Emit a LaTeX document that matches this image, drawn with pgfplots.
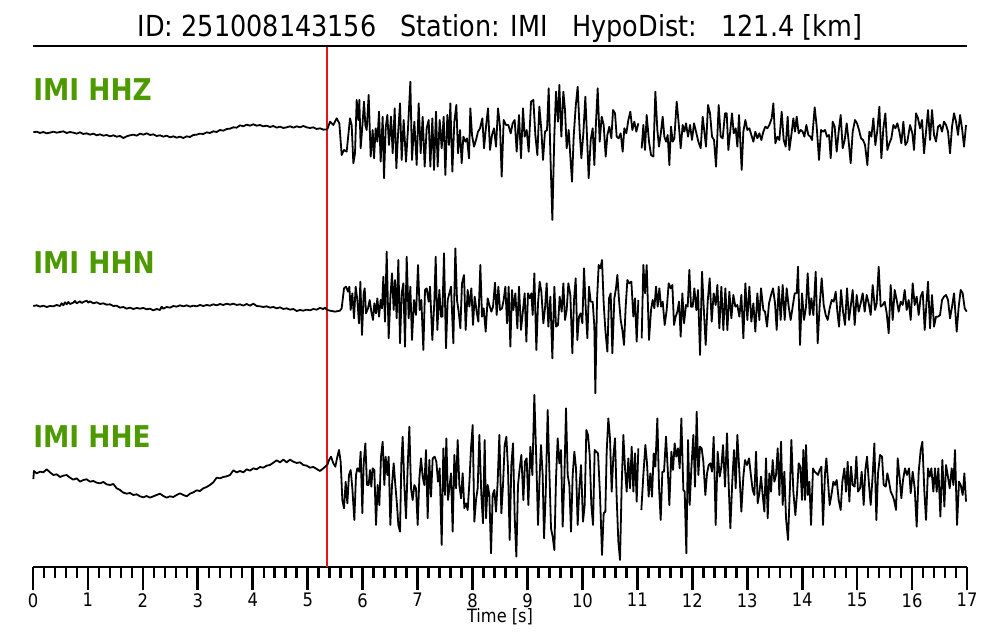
\documentclass[border=0pt]{standalone}
\usepackage{fontspec}
\setmainfont{DejaVu Sans}[FakeStretch=0.88]
\usepackage{pgfplots}
\pgfplotsset{compat=1.18}
\definecolor{stagreen}{RGB}{76,153,0}
\definecolor{pickred}{RGB}{235,20,20}

% traces were read off the image in pieces, at 3x; each piece is mapped back
% to seconds (x) and to image rows (y, negated) with its own offset
\pgfplotsset{
  seg/.style 2 args={x filter/.expression={(#1+x/3-33)/54.94},
                     y filter/.expression={-(#2+y/3)}},
  trace/.style={black, line width=0.9pt, line join=round},
}

\begin{document}
\begin{tikzpicture}
\useasboundingbox (-16.5pt,-36.5pt) rectangle (483.5pt,283.5pt);
\begin{axis}[
  at={(0,0)}, anchor=south west,
  scale only axis, width=467pt, height=260.5pt,
  xmin=0, xmax=17, ymin=-567, ymax=-46,
  axis x line*=bottom, axis y line=none,
  xtick={0,...,17}, minor x tick num=4, ytick=\empty,
  tick align=outside,
  major tick length=11.5pt, minor tick length=5.5pt,
  major tick style={black, line width=1.35pt},
  minor tick style={black, line width=1.25pt},
  x axis line style={line width=1.1pt},
  xticklabel style={font=\fontsize{9.3}{10}\selectfont, inner sep=0pt, yshift=-1.5pt},
  /pgf/number format/assume math mode=true,
  clip=false,
]
% P-pick line, drawn as a plot of its own
\addplot[pickred, line width=0.8pt] coordinates {(5.355,-46) (5.355,-567)};
% ---- HHZ
\addplot[trace, seg={20}{70}] coordinates {
(40,187)(50,185)(60,189)(70,186)(80,190)(90,188)(100,185)(110,188)(120,186)(130,184)(140,189)(150,186)(160,188)(170,191)(180,187)(190,192)(200,190)(210,194)(220,191)(230,196)(240,193)(250,197)(260,195)(270,199)(280,196)(290,200)(300,198)(310,204)(320,199)(330,196)(340,194)(350,197)(360,191)(370,194)(380,190)(390,195)(400,193)(410,198)(420,196)(430,200)(440,197)(450,202)(460,199)(470,203)(480,200)(490,204)(500,199)(510,201)(520,195)(530,194)(540,191)(550,192)(560,187)(570,189)(580,184)(590,186)(600,180)(610,182)(620,177)(630,176)(640,172)(650,173)(660,166)(670,169)(680,164)(690,167)(700,163)(710,167)(720,165)(730,169)(740,167)(750,171)(760,168)(770,173)(780,170)(790,174)(800,172)(810,169)(820,173)(830,169)(840,172)(850,168)(860,172)(870,174)(880,172)(890,177)(900,175)(910,179)(921,178)
};
\addplot[trace, seg={320}{70}] coordinates {
(22,178)(30,155)(40,165)(50,145)(58,160)(65,255)(72,240)(80,245)(85,195)(90,145)(95,165)(100,280)(105,250)(110,90)(115,150)(118,90)(122,235)(128,155)(132,95)(136,165)(140,180)(146,75)(152,260)(158,180)(162,265)(167,175)(172,215)(177,125)(182,275)(188,140)(192,325)(197,175)(202,135)(207,225)(213,140)(218,250)(224,115)(229,295)(234,195)(240,100)(245,270)(251,150)(258,275)(264,175)(271,35)(276,270)(283,155)(290,285)(296,100)(302,250)(308,140)(314,290)(320,175)(326,150)(331,290)(337,145)(342,300)(348,125)(353,290)(359,150)(365,235)(371,140)(376,315)(382,135)(387,225)(391,100)(397,305)(403,155)(409,105)(414,250)(420,180)(425,280)(430,200)(436,215)(441,205)(447,265)(451,115)(456,195)(462,230)(468,210)(474,185)(480,175)(487,145)(492,235)(498,170)(504,115)(510,240)(516,195)(522,175)(528,230)(534,115)(540,170)(545,320)(551,150)(558,165)(565,165)(572,190)(578,160)(584,150)(590,245)(597,135)(603,265)(609,115)(614,200)(620,180)(626,245)(633,95)(640,90)(646,195)(652,255)(658,110)(664,180)(669,270)(675,185)(681,180)(686,55)(691,250)(697,450)(703,195)(708,65)(714,155)(718,45)(724,200)(730,65)(735,120)(740,235)(746,180)(751,260)(756,335)(761,200)(767,110)(773,50)(779,185)(784,265)(790,190)(796,80)(801,200)(806,325)(812,210)(818,175)(823,285)(828,155)(833,55)(839,215)(845,140)(851,165)(857,260)(862,195)(868,170)(874,205)(879,120)(885,130)(890,200)(896,205)(902,190)(908,245)(913,175)(919,190)(925,150)(931,125)(937,180)(943,155)(949,185)(955,160)
};
\addplot[trace, seg={640}{70}] coordinates {
(5,235)(10,165)(15,240)(20,135)(27,215)(33,255)(40,260)(46,65)(52,180)(57,230)(63,185)(68,140)(73,200)(78,215)(83,195)(88,285)(93,170)(98,215)(103,205)(110,95)(116,160)(122,235)(128,165)(133,185)(138,160)(144,200)(150,165)(156,210)(162,160)(168,185)(175,215)(182,235)(188,140)(193,185)(198,230)(204,105)(210,130)(216,200)(222,210)(228,290)(236,105)(242,200)(248,205)(255,130)(260,130)(265,240)(270,190)(276,130)(281,190)(287,175)(292,230)(297,135)(305,300)(310,185)(316,150)(322,180)(328,175)(334,195)(340,215)(346,185)(352,205)(358,190)(364,210)(370,185)(376,170)(382,175)(388,165)(395,145)(400,100)(406,220)(412,200)(418,210)(425,125)(431,210)(437,230)(443,140)(448,240)(454,195)(460,145)(465,185)(470,140)(476,190)(482,180)(488,185)(493,200)(499,165)(505,195)(511,200)(516,210)(524,112)(530,170)(537,270)(543,180)(549,185)(555,180)(561,200)(567,195)(572,265)(578,155)(584,170)(590,245)(597,175)(602,135)(608,235)(614,210)(620,160)(626,215)(632,280)(638,185)(645,150)(651,160)(657,180)(663,205)(669,210)(675,225)(682,285)(688,185)(694,200)(700,145)(706,225)(712,180)(718,110)(724,265)(730,175)(736,130)(742,240)(748,220)(754,205)(760,165)(766,175)(772,160)(778,185)(784,220)(790,155)(796,225)(802,215)(810,165)(817,190)(822,240)(828,130)(834,145)(840,175)(846,150)(852,250)(858,185)(864,120)(870,210)(876,120)(882,195)(888,215)(894,170)(900,165)(906,185)(912,155)(918,165)(924,185)(930,250)(936,170)(942,130)(948,155)(954,195)(960,135)(966,175)(972,230)(978,165)
};
% ---- HHN
\addplot[trace, seg={20}{240}] coordinates {
(40,198)(50,196)(60,200)(70,197)(80,201)(90,198)(100,199)(110,195)(120,198)(125,190)(130,196)(135,187)(140,193)(145,186)(150,192)(160,188)(165,183)(170,190)(180,184)(185,189)(190,186)(200,182)(205,188)(210,184)(220,190)(230,187)(240,192)(250,190)(260,194)(270,193)(280,198)(290,197)(300,203)(310,201)(320,206)(330,203)(340,207)(350,204)(360,206)(370,204)(380,208)(390,206)(400,211)(410,207)(420,210)(425,200)(430,206)(440,201)(450,203)(460,198)(470,200)(480,196)(490,199)(500,196)(510,200)(520,197)(530,199)(540,195)(550,198)(560,195)(570,197)(580,193)(590,196)(600,192)(610,195)(620,191)(630,194)(640,191)(650,195)(660,193)(670,197)(680,192)(690,197)(700,191)(710,198)(720,199)(730,201)(740,199)(750,203)(760,201)(770,205)(780,202)(790,207)(800,205)(810,209)(820,207)(830,213)(840,210)(850,212)(860,209)(870,211)(880,207)(890,209)(900,204)(910,207)(915,203)(921,210)
};
\addplot[trace, seg={320}{240}] coordinates {
(22,210)(30,212)(45,215)(60,212)(65,205)(72,145)(78,140)(84,155)(88,140)(92,210)(97,160)(102,235)(107,140)(112,180)(117,250)(121,125)(126,285)(131,160)(134,145)(138,220)(144,205)(149,180)(154,215)(159,240)(163,190)(168,220)(172,175)(177,230)(182,180)(186,205)(190,110)(195,245)(200,35)(206,295)(211,175)(216,100)(221,210)(225,120)(230,235)(235,60)(240,310)(245,160)(250,130)(255,320)(260,50)(266,235)(271,140)(276,300)(282,180)(288,225)(294,75)(299,210)(304,180)(310,330)(315,150)(320,145)(326,185)(330,140)(337,300)(343,185)(347,50)(352,270)(358,150)(363,230)(367,230)(372,40)(378,325)(383,180)(388,160)(393,140)(400,310)(406,25)(411,180)(416,215)(421,265)(426,130)(432,105)(437,270)(443,150)(448,200)(454,145)(459,255)(464,170)(470,215)(475,245)(481,75)(486,230)(491,205)(497,275)(503,175)(508,195)(514,215)(519,200)(525,128)(530,225)(535,140)(540,210)(546,205)(551,180)(556,140)(561,250)(566,140)(571,320)(576,150)(580,210)(586,160)(592,265)(597,140)(603,270)(609,210)(614,160)(619,305)(624,160)(629,175)(634,160)(638,225)(643,100)(649,330)(654,190)(659,125)(664,155)(670,250)(675,205)(680,130)(685,260)(691,170)(697,355)(703,140)(708,260)(714,255)(719,170)(725,215)(730,130)(735,240)(740,210)(745,130)(751,165)(757,340)(762,180)(767,115)(772,300)(777,230)(782,220)(787,250)(792,85)(797,200)(802,295)(807,140)(812,185)(818,185)(823,260)(826,460)(831,180)(836,75)(841,85)(846,60)(851,190)(856,270)(862,335)(867,175)(872,160)(877,340)(883,175)(888,145)(892,105)(897,180)(902,240)(907,270)(912,315)(917,200)(922,120)(928,130)(934,125)(940,230)(945,175)(950,305)(955,180)
};
\addplot[trace, seg={640}{240}] coordinates {
(5,295)(10,75)(15,160)(20,75)(27,300)(33,210)(38,180)(43,205)(48,140)(53,200)(58,145)(63,200)(68,185)(74,255)(80,210)(86,130)(92,145)(97,135)(102,255)(107,230)(112,215)(117,185)(122,290)(127,160)(132,250)(138,195)(143,200)(148,90)(153,200)(158,200)(163,145)(169,210)(174,150)(180,345)(186,95)(191,200)(197,315)(203,185)(209,115)(215,245)(221,160)(227,195)(232,135)(238,265)(244,140)(250,270)(256,145)(262,270)(268,155)(274,235)(280,165)(286,200)(292,195)(298,230)(304,165)(310,295)(316,130)(322,240)(328,140)(334,245)(340,190)(346,275)(352,160)(358,240)(363,145)(370,210)(375,215)(381,260)(387,190)(393,165)(399,145)(405,190)(410,270)(416,140)(422,240)(428,135)(434,240)(440,145)(446,200)(452,240)(458,200)(464,160)(470,160)(474,80)(480,315)(486,160)(492,240)(498,200)(503,100)(509,225)(514,175)(520,225)(527,95)(533,310)(539,195)(545,115)(551,195)(557,225)(563,240)(569,205)(575,180)(581,185)(587,155)(592,215)(597,260)(603,150)(609,215)(615,255)(621,145)(627,240)(632,200)(638,150)(644,255)(650,165)(656,215)(662,190)(668,160)(674,215)(680,165)(686,190)(692,225)(698,135)(705,210)(710,190)(716,80)(722,200)(728,195)(734,185)(740,220)(746,280)(752,135)(758,240)(764,150)(770,180)(776,215)(782,185)(788,195)(794,150)(800,210)(806,180)(812,240)(818,130)(824,195)(830,170)(836,225)(842,170)(848,155)(854,270)(860,180)(864,125)(870,265)(876,165)(882,260)(888,230)(894,230)(900,225)(906,180)(912,170)(918,165)(924,180)(930,235)(936,200)(942,160)(950,275)(956,200)(962,150)(968,160)(974,205)(980,215)
};
% ---- HHE
\addplot[trace, seg={20}{415}] coordinates {
(40,192)(42,168)(50,175)(60,170)(70,172)(80,163)(90,172)(100,180)(110,178)(120,186)(130,182)(140,180)(150,188)(160,194)(170,190)(180,200)(190,195)(200,193)(210,200)(220,198)(230,203)(240,205)(250,201)(260,208)(270,210)(280,207)(290,220)(300,225)(310,233)(320,236)(330,234)(340,240)(350,238)(360,244)(370,247)(380,243)(390,248)(400,244)(410,240)(420,236)(430,243)(440,248)(450,244)(460,246)(470,240)(480,235)(490,240)(500,244)(510,236)(520,232)(530,226)(540,228)(550,220)(560,216)(570,210)(580,202)(590,188)(600,190)(610,186)(620,184)(630,180)(640,166)(650,172)(660,168)(670,172)(680,163)(690,167)(700,160)(710,163)(720,156)(730,158)(740,152)(750,150)(760,143)(770,136)(780,142)(790,134)(800,142)(810,134)(820,140)(830,144)(840,142)(850,150)(860,152)(870,158)(880,156)(890,162)(900,168)(910,160)(921,150)
};
\addplot[trace, seg={320}{385}] coordinates {
(22,240)(27,225)(33,215)(40,235)(46,245)(52,215)(57,195)(62,230)(67,345)(72,370)(77,290)(82,355)(87,270)(92,255)(97,310)(103,405)(108,270)(112,250)(118,260)(122,200)(127,385)(131,235)(136,175)(141,300)(146,300)(150,255)(154,305)(158,250)(163,255)(168,420)(173,300)(178,360)(183,215)(188,170)(193,300)(197,215)(202,270)(206,215)(211,420)(216,300)(221,235)(226,300)(231,360)(235,420)(240,440)(244,235)(248,155)(253,300)(258,400)(263,245)(268,125)(273,310)(278,345)(283,300)(288,310)(293,420)(298,280)(303,220)(308,275)(313,300)(318,195)(323,400)(328,225)(333,335)(338,220)(344,215)(349,230)(354,290)(359,250)(365,480)(370,190)(375,330)(379,160)(384,345)(389,300)(393,265)(398,440)(403,210)(408,310)(413,165)(418,300)(423,340)(428,265)(433,370)(438,355)(443,375)(448,295)(453,190)(458,120)(463,410)(468,345)(473,310)(478,150)(484,330)(489,415)(494,165)(498,400)(503,300)(508,330)(513,505)(518,330)(523,315)(528,380)(533,290)(538,150)(544,385)(549,300)(554,180)(559,155)(564,250)(569,465)(574,240)(579,175)(584,395)(589,515)(594,300)(599,250)(604,210)(610,345)(615,230)(620,220)(625,360)(631,185)(637,270)(643,30)(649,230)(654,420)(659,270)(663,180)(668,270)(672,460)(677,330)(683,75)(688,255)(693,430)(698,455)(703,495)(708,280)(713,160)(718,235)(723,195)(728,425)(733,280)(738,70)(743,270)(748,300)(753,440)(758,270)(763,200)(768,250)(773,420)(778,310)(783,240)(789,410)(794,360)(799,135)(804,150)(809,210)(814,360)(819,420)(824,195)(829,200)(834,205)(840,330)(846,510)(851,385)(856,380)(860,200)(865,100)(870,160)(875,320)(880,215)(885,160)(890,340)(895,470)(900,525)(905,300)(910,150)(915,250)(920,320)(925,220)(930,310)(935,185)(940,320)(945,205)(950,350)(955,190)
};
\addplot[trace, seg={640}{385}] coordinates {
(4,375)(10,270)(16,180)(21,235)(26,335)(31,265)(36,335)(41,205)(46,245)(52,100)(57,305)(62,405)(67,260)(72,260)(78,155)(83,250)(88,360)(94,200)(99,255)(104,175)(109,215)(114,190)(119,250)(124,100)(130,315)(134,320)(139,505)(144,165)(149,360)(154,250)(160,150)(165,305)(170,80)(175,270)(180,185)(185,190)(190,230)(196,330)(201,265)(206,240)(211,235)(216,260)(221,155)(227,420)(233,200)(239,275)(244,245)(249,180)(255,305)(261,145)(266,300)(271,430)(277,285)(282,195)(287,310)(292,150)(298,260)(304,380)(310,275)(315,225)(321,240)(327,220)(332,265)(338,315)(343,330)(348,200)(353,355)(358,325)(363,275)(368,330)(373,380)(378,220)(383,400)(388,265)(393,320)(398,225)(403,290)(408,270)(413,190)(418,330)(423,170)(428,360)(433,260)(438,400)(444,465)(450,300)(454,165)(460,320)(466,390)(471,325)(476,235)(481,245)(486,345)(490,195)(495,345)(498,180)(503,330)(508,290)(513,420)(519,250)(524,260)(529,265)(534,270)(539,255)(544,245)(549,420)(555,265)(559,220)(564,290)(569,360)(575,325)(580,290)(585,300)(590,285)(596,345)(602,375)(607,290)(613,250)(618,320)(623,230)(628,350)(633,245)(638,300)(644,305)(649,215)(654,320)(660,310)(665,260)(671,360)(676,255)(681,215)(687,300)(692,360)(698,270)(703,175)(709,405)(714,265)(720,210)(726,215)(731,300)(737,305)(742,265)(747,290)(752,320)(757,330)(762,345)(768,375)(773,220)(779,280)(784,340)(789,285)(795,250)(801,270)(807,250)(812,325)(818,260)(824,310)(830,425)(836,260)(842,195)(847,170)(853,320)(858,405)(864,250)(869,275)(874,250)(880,320)(885,250)(890,320)(895,250)(901,395)(907,225)(913,365)(918,240)(923,270)(929,310)(935,250)(940,300)(945,195)(951,420)(957,290)(962,300)(968,330)(973,265)(978,350)
};

\draw[line width=1.1pt] (axis cs:0,-46) -- (axis cs:17,-46);

\node[anchor=base, inner sep=0pt, font=\fontsize{14.5}{17}\selectfont] at (axis cs:8.5,-37)
  {ID: 251008143156\ \ \ Station: IMI\ \ \ HypoDist:\ \ \ 121.4 [km]};
\node[anchor=base west, inner sep=0pt, text=stagreen, font=\fontsize{15}{18}\selectfont\bfseries]
  at (axis cs:0,-101) {IMI HHZ};
\node[anchor=base west, inner sep=0pt, text=stagreen, font=\fontsize{15}{18}\selectfont\bfseries]
  at (axis cs:0,-274) {IMI HHN};
\node[anchor=base west, inner sep=0pt, text=stagreen, font=\fontsize{15}{18}\selectfont\bfseries]
  at (axis cs:0,-448) {IMI HHE};
\node[anchor=base, inner sep=0pt, font=\fontsize{9.2}{11}\selectfont] at (axis cs:8.5,-623) {Time [s]};
\end{axis}
\end{tikzpicture}
\end{document}
